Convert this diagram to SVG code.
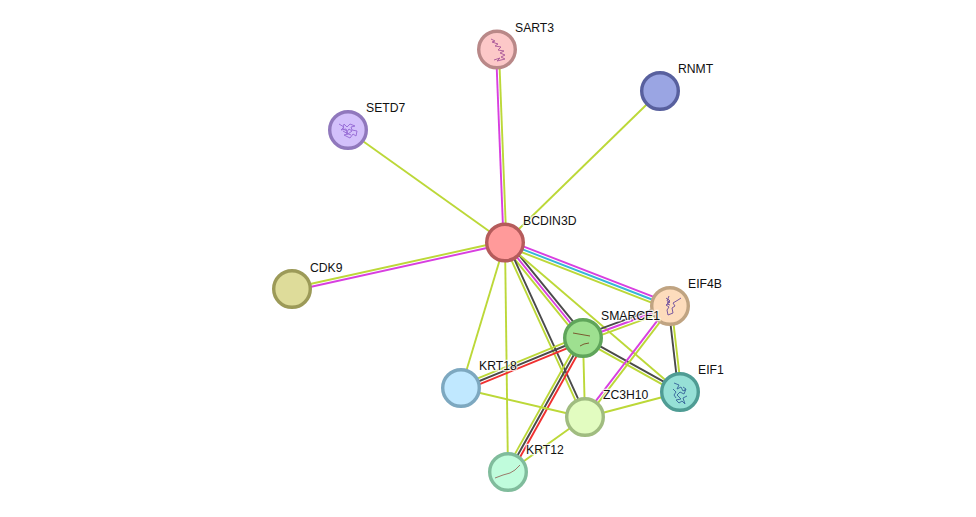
<svg xmlns="http://www.w3.org/2000/svg" width="976" height="517" viewBox="0 0 976 517">
<style>
  .bg { fill: #fff; }
  #edges line { stroke-width: 1.9; fill: none; }
  .o { stroke: #bcd838; }
  .m { stroke: #d83fe0; }
  .c { stroke: #36b6d8; }
  .k { stroke: #4a4a4a; }
  .r { stroke: #f03030; }
  .n { stroke-width: 3.4; }
  .l { font: 12.2px "Liberation Sans", Arial, sans-serif; fill: #111; stroke: #fff; stroke-opacity: .75; stroke-width: 2.5px; paint-order: stroke; }
  .s { fill: none; stroke-width: 1; stroke-linejoin: round; }
</style>
<rect class="bg" width="976" height="517"/>
<g id="edges" transform="translate(0 .5)">
  <!-- BCDIN3D links -->
  <line class="m" x1="496" y1="49" x2="503.6" y2="242"/>
  <line class="o" x1="498.9" y1="49" x2="506.4" y2="242"/>
  <line class="o" x1="660" y1="91" x2="505" y2="242"/>
  <line class="o" x1="348" y1="130" x2="505" y2="242"/>
  <line class="o" x1="505" y1="240.5" x2="292" y2="287.5"/>
  <line class="m" x1="505" y1="243.5" x2="292" y2="290.5"/>
  <line class="m" x1="506.1" y1="239.2" x2="671.1" y2="303.2"/>
  <line class="c" x1="505" y1="242" x2="670" y2="306"/>
  <line class="o" x1="503.9" y1="244.8" x2="668.9" y2="308.8"/>
  <line class="k" x1="507.3" y1="240.1" x2="585.3" y2="336.1"/>
  <line class="m" x1="505" y1="242" x2="583" y2="338"/>
  <line class="o" x1="502.7" y1="243.9" x2="580.7" y2="339.9"/>
  <line class="k" x1="506.4" y1="241.4" x2="586.4" y2="416.4"/>
  <line class="o" x1="503.6" y1="242.6" x2="583.6" y2="417.6"/>
  <line class="o" x1="505" y1="242" x2="680" y2="392"/>
  <line class="o" x1="505" y1="242" x2="461" y2="388"/>
  <line class="o" x1="505" y1="242" x2="508" y2="472"/>
  <!-- SMARCE1 links -->
  <line class="k" x1="582" y1="335.2" x2="669" y2="303.2"/>
  <line class="m" x1="583" y1="338" x2="670" y2="306"/>
  <line class="o" x1="584" y1="340.8" x2="671" y2="308.8"/>
  <line class="o" x1="581.9" y1="335.2" x2="459.9" y2="385.2"/>
  <line class="k" x1="583" y1="338" x2="461" y2="388"/>
  <line class="r" x1="584.1" y1="340.8" x2="462.1" y2="390.8"/>
  <line class="o" x1="580.4" y1="336.5" x2="505.4" y2="470.5"/>
  <line class="k" x1="583" y1="338" x2="508" y2="472"/>
  <line class="r" x1="585.6" y1="339.5" x2="510.6" y2="473.5"/>
  <line class="o" x1="583" y1="338" x2="585" y2="417"/>
  <line class="k" x1="583.7" y1="336.7" x2="680.7" y2="390.7"/>
  <line class="o" x1="582.3" y1="339.3" x2="679.3" y2="393.3"/>
  <!-- EIF4B, ZC3H10 links -->
  <line class="k" x1="668.5" y1="306.2" x2="678.5" y2="392.2"/>
  <line class="o" x1="671.5" y1="305.8" x2="681.5" y2="391.8"/>
  <line class="m" x1="668.8" y1="305.1" x2="583.8" y2="416.1"/>
  <line class="o" x1="671.2" y1="306.9" x2="586.2" y2="417.9"/>
  <line class="o" x1="585" y1="417" x2="680" y2="392"/>
  <line class="o" x1="585" y1="417" x2="461" y2="388"/>
  <line class="o" x1="585" y1="417" x2="508" y2="472"/>
</g>
<g id="SART3">
  <circle class="n" cx="497" cy="49.5" r="18.3" fill="#fcc8c8" stroke="#b98888"/>
  <path class="s" stroke="#b0609c" d="M491 39l4 2-3 1 6 2-3 2 6 1-3 3 6 1-4 2 5 2-4 2 4 2-8 2 3-3-6 2"/>
  <text class="l" x="515" y="32">SART3</text>
</g>
<g id="RNMT">
  <circle class="n" cx="660" cy="91" r="18.3" fill="#9aa5e3" stroke="#58609e"/>
  <text class="l" x="678" y="73">RNMT</text>
</g>
<g id="SETD7">
  <circle class="n" cx="348" cy="130" r="18.3" fill="#d3c0fb" stroke="#9078bd"/>
  <path class="s" stroke="#9a70d8" d="M339 124l5 3-3 3 5-1 2 5-4 1 6 3 3-4 3 2 1-5-5-1-1-3 4-1-5-2-3 3-3-3-1 5 4 2M343 131l5 3 4-3-3-2-3 4 5 2"/>
  <text class="l" x="366" y="112">SETD7</text>
</g>
<g id="BCDIN3D">
  <circle class="n" cx="505" cy="242.5" r="18.3" fill="#ff9a9a" stroke="#b55b5b"/>
  <text class="l" x="523" y="225">BCDIN3D</text>
</g>
<g id="CDK9">
  <circle class="n" cx="292" cy="289" r="18.3" fill="#dedc9a" stroke="#9c9a58"/>
  <text class="l" x="310" y="272">CDK9</text>
</g>
<g id="EIF4B">
  <circle class="n" cx="670" cy="306" r="18.3" fill="#fddcbc" stroke="#c0a482"/>
  <path class="s" stroke="#7a5aa0" d="M669 296l-2 5 3 1-4 3 3 2-2 3 1 5 5-2-1-5 3-2-2-3 5-3 3-2M666 298l4 3-3 3 3 1M668 299l2 2-3 2"/>
  <text class="l" x="688" y="288">EIF4B</text>
</g>
<g id="SMARCE1">
  <circle class="n" cx="583" cy="338" r="18.3" fill="#9ee090" stroke="#5fa55a"/>
  <path class="s" stroke="#7a5a30" stroke-width="1.2" d="M573 333l17 3"/>
  <path class="s" stroke="#7a5a30" d="M580 346l4-2 5-1"/>
  <text class="l" x="601" y="320">SMARCE1</text>
</g>
<g id="KRT18">
  <circle class="n" cx="461" cy="388" r="18.3" fill="#c0e8ff" stroke="#7da8c0"/>
  <text class="l" x="479" y="370">KRT18</text>
</g>
<g id="ZC3H10">
  <circle class="n" cx="585" cy="417" r="18.3" fill="#e2fcc0" stroke="#a0bc80"/>
  <text class="l" x="603" y="399">ZC3H10</text>
</g>
<g id="EIF1">
  <circle class="n" cx="680" cy="392" r="18.3" fill="#96e0d6" stroke="#4f9c94"/>
  <path class="s" stroke="#4070a0" d="M674 383l5 2-2 4 4-2 2 4 3-2-2 5-4-2-3 3 4 4-5 1 3 3 3-2 3 3-2-6 4-2M673 389l3 3-2 3 2 3M683 387l3 2-2 2"/>
  <text class="l" x="698" y="374">EIF1</text>
</g>
<g id="KRT12">
  <circle class="n" cx="508" cy="472" r="18.3" fill="#c0fcdc" stroke="#80bc9c"/>
  <path class="s" stroke="#9a7a6a" d="M495 478l8-3 7-2 5-3 5-5"/>
  <text class="l" x="526" y="454">KRT12</text>
</g>
</svg>
